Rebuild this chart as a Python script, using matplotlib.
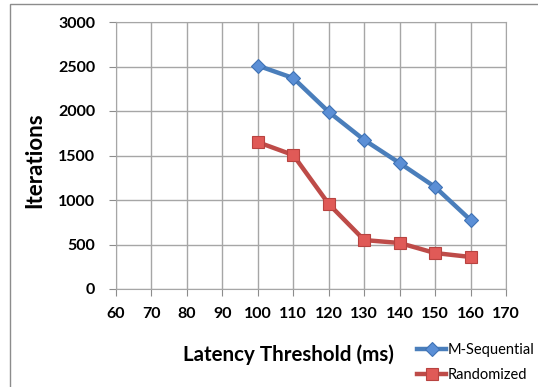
import matplotlib
matplotlib.use("Agg")
import matplotlib.pyplot as plt
from matplotlib.patches import Rectangle

thresholds = [100, 110, 120, 130, 140, 150, 160]
m_sequential = [2510, 2370, 1990, 1675, 1415, 1146, 775]
randomized = [1650, 1505, 955, 550, 517, 404, 360]
x_ticks = [60, 70, 80, 90, 100, 110, 120, 130, 140, 150, 160, 170]
y_ticks = [0, 500, 1000, 1500, 2000, 2500, 3000]

plt.rcParams['font.family'] = ['Lato', 'DejaVu Sans']

fig = plt.figure(figsize=(5.38, 3.87), dpi=100)
ax = fig.add_axes([116/538, 1-289/387, (506-116)/538, (289-22)/387])

# outer frame
fig.patches.append(Rectangle((10/538, -0.1), 2.0, 1 - 4/387 + 0.1, transform=fig.transFigure,
                             fill=False, edgecolor='#8c8c8c', linewidth=1.0))

blue = '#4a7ebb'
red = '#be4b48'
ax.plot(thresholds, m_sequential, color=blue, linewidth=3.2, marker='D', markersize=7,
        markerfacecolor='#5b8fd6', markeredgecolor='#3f72b5', markeredgewidth=0.8,
        label='M-Sequential', zorder=3)
ax.plot(thresholds, randomized, color=red, linewidth=3.2, marker='s', markersize=9,
        markerfacecolor='#e05a57', markeredgecolor='#b84340', markeredgewidth=0.8,
        label='Randomized', zorder=3)

ax.set_xlim(60, 170)
ax.set_ylim(0, 3000)
ax.set_xticks(x_ticks)
ax.set_yticks(y_ticks)
ax.grid(True, color='#a6a6a6', linewidth=1.0)
ax.set_axisbelow(True)
for s in ax.spines.values():
    s.set_color('#a6a6a6')
ax.tick_params(axis='both', colors='#8c8c8c', length=5, labelcolor='black', labelsize=11.5)
for lbl in ax.get_xticklabels() + ax.get_yticklabels():
    lbl.set_fontweight('bold')
ax.tick_params(axis='x', pad=8)
ax.tick_params(axis='y', pad=10)

fig.text(288/538, 1-355/387, 'Latency Threshold (ms)', fontsize=14.8, fontweight='bold',
         ha='center', va='center')
fig.text(35/538, 1-160/387, 'Iterations', fontsize=16, fontweight='bold',
         ha='center', va='center', rotation=90)

leg = ax.legend(loc='upper left', bbox_to_anchor=(410/538, 1-336/387), bbox_transform=fig.transFigure,
                frameon=False, fontsize=10.5, handlelength=2.0, handletextpad=0.05,
                labelspacing=0.75, borderpad=0)
for t in leg.get_texts():
    t.set_fontstretch('condensed')

fig.savefig('out.png', dpi=100)
